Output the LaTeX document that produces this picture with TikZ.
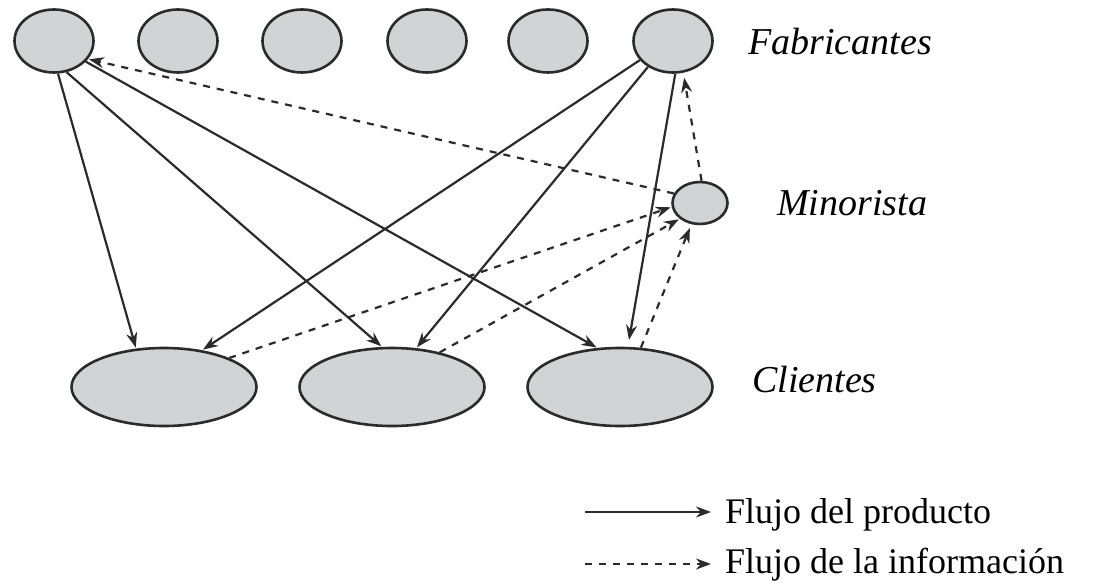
\documentclass[tikz,border=0pt]{standalone}
\usepackage{fontspec}
\setmainfont{Liberation Serif}
\usetikzlibrary{arrows.meta,shapes.geometric}
\definecolor{nodefill}{HTML}{D2D3D5}
\definecolor{ink}{HTML}{2B2B2B}
\begin{document}
\begin{tikzpicture}[x=1pt,y=-1pt,
  ent/.style={ellipse,draw=ink,line width=2.6pt,fill=nodefill,inner sep=0pt},
  fab/.style={ent,minimum width=79pt,minimum height=63pt},
  cli/.style={ent,minimum width=185pt,minimum height=78pt},
  mino/.style={ent,minimum width=55pt,minimum height=42pt},
  lbl/.style={anchor=base west,inner sep=0pt,font=\fontsize{38}{40}\selectfont\itshape},
  leg/.style={anchor=base west,inner sep=0pt,font=\fontsize{36}{40}\selectfont},
  flow/.style={draw=ink,line width=2.2pt,-{Stealth[length=15pt,width=11pt]},shorten >=1pt},
  info/.style={flow,dash pattern=on 7pt off 7pt}]
\useasboundingbox (0,0) rectangle (1114,583);
% fabricantes
\node[fab] (F1) at (54,41) {};
\node[fab] (F2) at (178,41) {};
\node[fab] (F3) at (302,41) {};
\node[fab] (F4) at (427,41) {};
\node[fab] (F5) at (548,41) {};
\node[fab] (F6) at (673,41) {};
% minorista
\node[mino] (M) at (700,203) {};
% clientes
\node[cli] (C1) at (164,387) {};
\node[cli] (C2) at (392,387) {};
\node[cli] (C3) at (620,387) {};
% labels
\node[lbl] (LF) at (748,55) {Fabricantes};
\node[lbl] (LM) at (777,215) {Minorista};
\node[lbl] (LC) at (752,392) {Clientes};
% product flow
\draw[flow] (F1.-83) -- (C1.126);
\draw[flow] (F1.-68) -- (C2.104);
\draw[flow] (F1.-33) -- (C3.120);
\draw[flow] (F6.-150) -- (C1.44);
\draw[flow] (F6.-134) -- (C2.58);
\draw[flow,shorten >=7pt] (F6.-86) -- (C3.79);
% information flow
\draw[info] (M.160) -- (F1.-28);
\draw[info,shorten >=5pt] (M.86) -- (F6.-72);
\draw[info] (C1.24) -- (M.-172);
\draw[info] (C2.36) -- (M.-142);
\draw[info,shorten >=4pt] (C3.62) -- (M.-112);
% legend
\coordinate (A1) at (585,512);
\coordinate (B1) at (711,512);
\coordinate (A2) at (585,564);
\coordinate (B2) at (711,564);
\draw[flow,shorten >=0pt] (A1) -- (B1);
\draw[info,shorten >=0pt] (A2) -- (B2);
\node[leg] (T1) at (725,523) {Flujo del producto};
\node[leg] (T2) at (725,573) {Flujo de la información};
\end{tikzpicture}
\end{document}
